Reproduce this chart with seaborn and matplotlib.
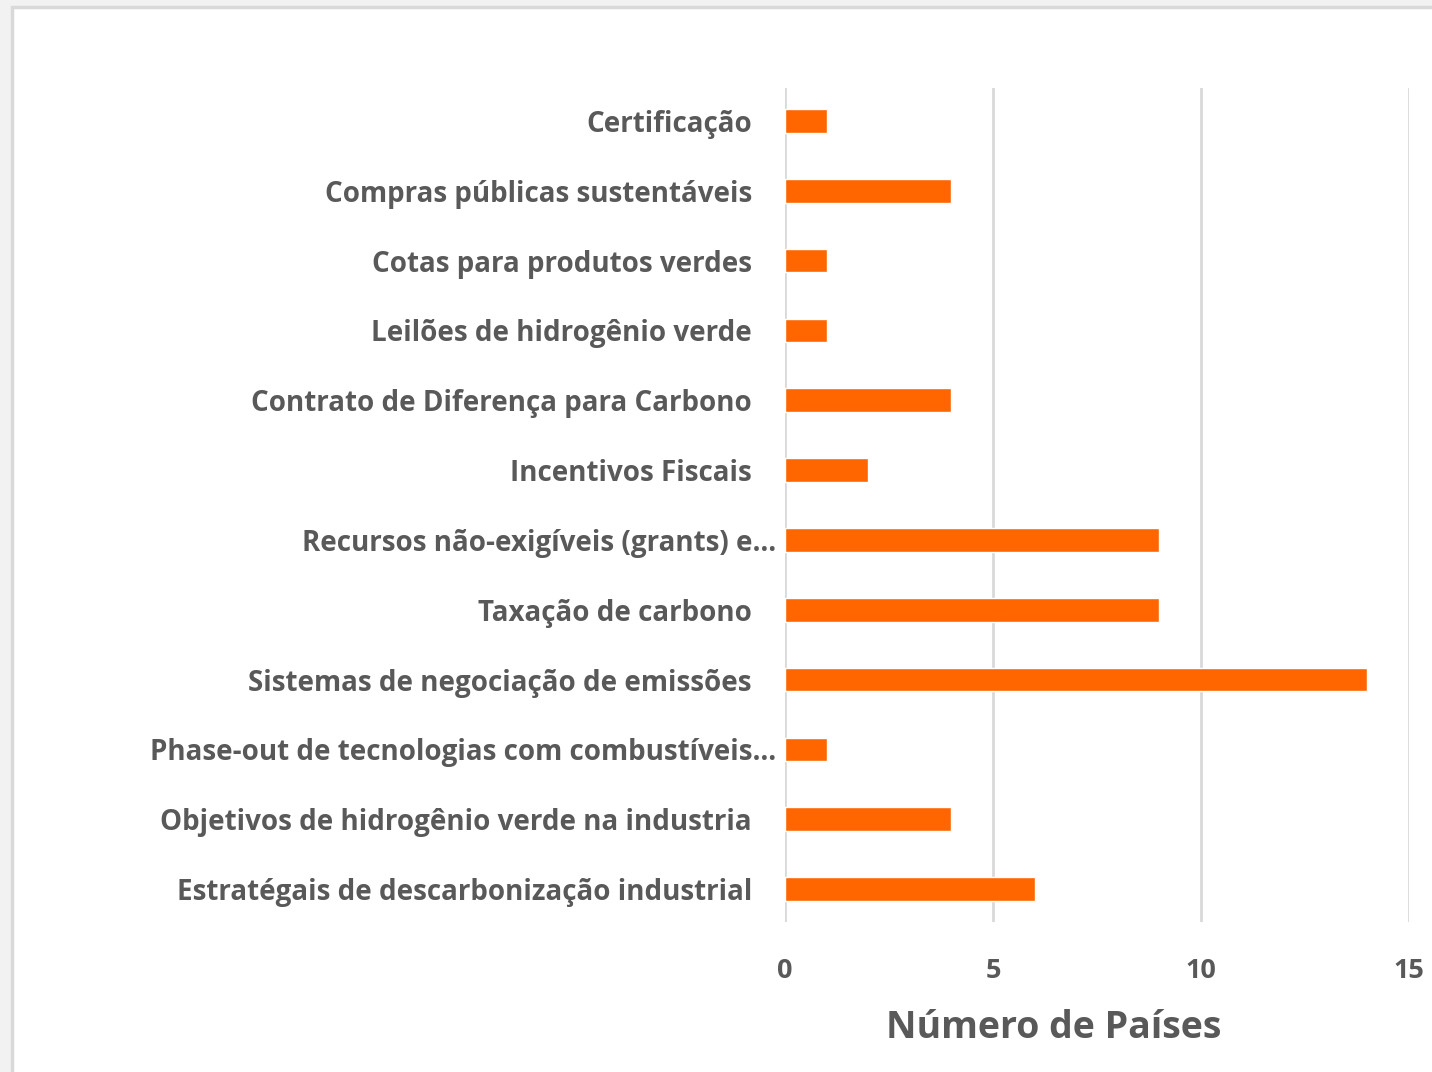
import matplotlib
matplotlib.use("Agg")
import matplotlib.pyplot as plt
import matplotlib.transforms as mtransforms
from matplotlib.patches import Rectangle
import seaborn as sns
import pandas as pd

categories = [
    "Certificação",
    "Compras públicas sustentáveis",
    "Cotas para produtos verdes",
    "Leilões de hidrogênio verde",
    "Contrato de Diferença para Carbono",
    "Incentivos Fiscais",
    "Recursos não-exigíveis (grants) e…",
    "Taxação de carbono",
    "Sistemas de negociação de emissões",
    "Phase-out de tecnologias com combustíveis…",
    "Objetivos de hidrogênio verde na industria",
    "Estratégais de descarbonização industrial",
]
countries = [1, 4, 1, 1, 4, 2, 9, 9, 14, 1, 4, 6]
x_ticks = [0, 5, 10, 15]
x_title = "Número de Países"

sns.set_theme(style="white")
plt.rcParams["font.family"] = ["Open Sans", "DejaVu Sans"]

text_color = "#595959"
grid_color = "#d9d9d9"
bar_color = "#ff6600"

df = pd.DataFrame({"categoria": categories, "paises": countries})

fig = plt.figure(figsize=(14.32, 10.72), dpi=100)
fig.patch.set_facecolor("#f2f2f2")
# white chart area with grey border, like the spreadsheet frame
fig.patches.append(Rectangle((12 / 1432, -0.01), 1.02, 1 - 7 / 1072 + 0.01,
                             transform=fig.transFigure, facecolor="white",
                             edgecolor=grid_color, linewidth=2.5, zorder=-5))

ax = fig.add_axes([785 / 1432, 1 - 922 / 1072, 624 / 1432, 834 / 1072])
ax.set_facecolor("none")

sns.barplot(data=df, y="categoria", x="paises", orient="h", color=bar_color,
            width=0.34, saturation=1, ax=ax, zorder=3)

ax.set_xlim(0, 15)
ax.set_ylim(len(categories) - 0.53, -0.47)
ax.set_xticks(x_ticks)
ax.xaxis.grid(True, color=grid_color, linewidth=2)
ax.set_axisbelow(True)
for s in ax.spines.values():
    s.set_visible(False)

ax.tick_params(axis="x", length=0, pad=26, labelsize=19.5, labelcolor=text_color)
ax.tick_params(axis="y", length=0, pad=33 * 0.72, labelsize=20, labelcolor=text_color)
for lab in ax.get_xticklabels():
    lab.set_fontweight("bold")
for lab in ax.get_yticklabels():
    lab.set_fontweight("bold")
    if lab.get_text().endswith("…"):
        lab.set_transform(lab.get_transform() +
                          mtransforms.ScaledTranslation(24 / 100, 0, fig.dpi_scale_trans))

ax.set_ylabel("")
ax.set_xlabel(x_title, fontsize=27, color=text_color, fontweight="bold")
ax.xaxis.set_label_coords((1054 - 785) / 624, (922 - 1028) / 834)
ax.xaxis.label.set_va("center")

fig.savefig("out.png", dpi=100, facecolor=fig.get_facecolor())
